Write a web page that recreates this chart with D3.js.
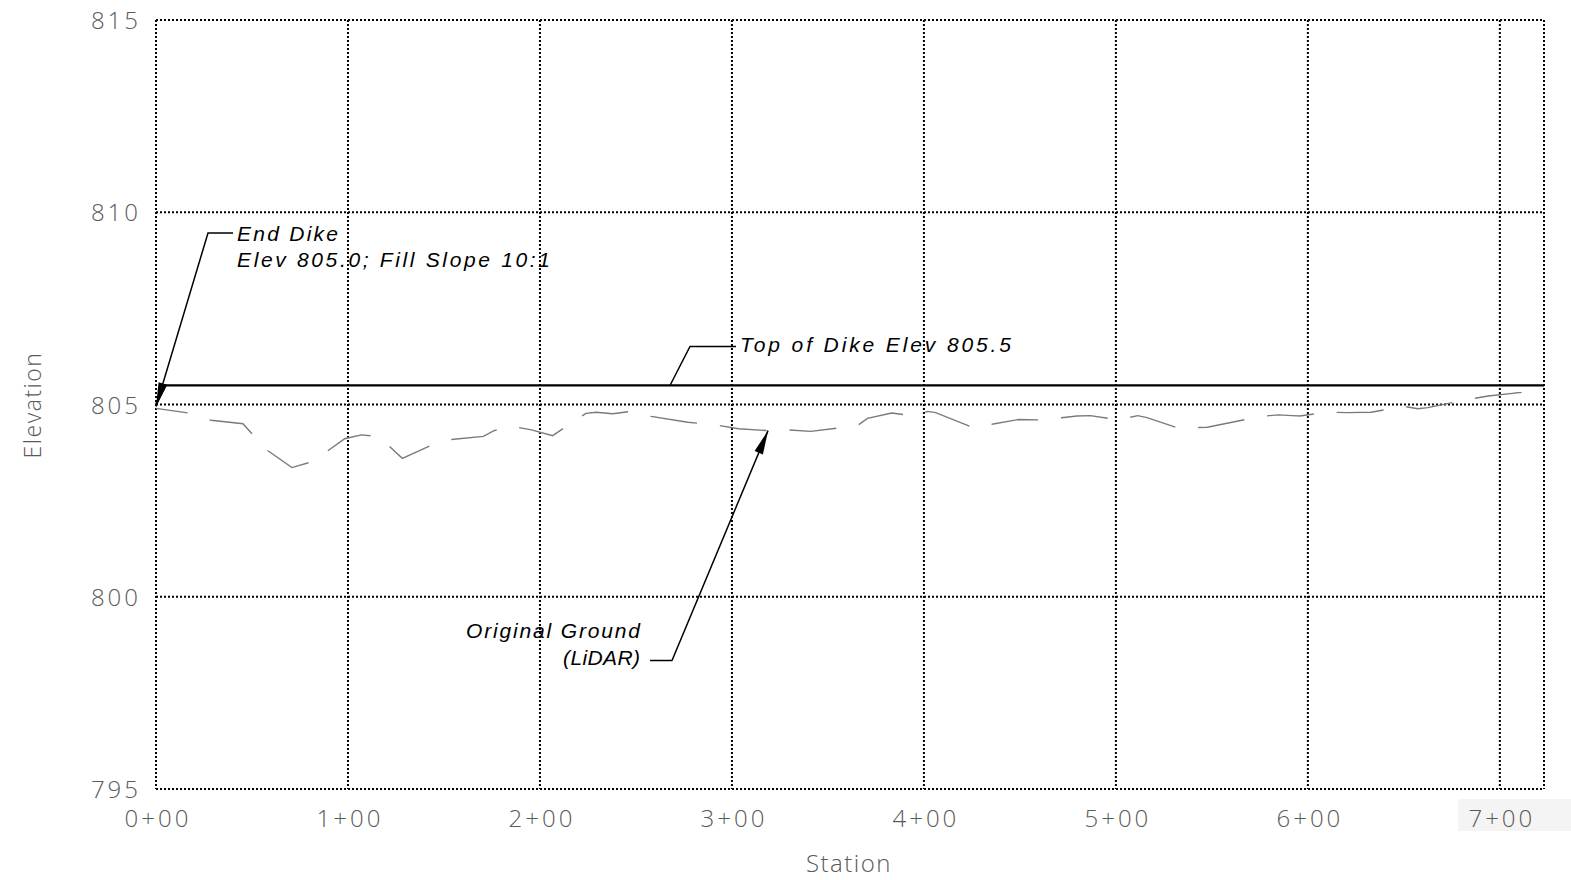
<!DOCTYPE html>
<html>
<head>
<meta charset="utf-8">
<script src="https://cdn.jsdelivr.net/npm/d3@7"></script>
<style>
  html, body { margin: 0; padding: 0; background: #fff; }
  svg { display: block; }
  .tick-label { font-family: "Open Sans", "Liberation Sans", sans-serif; font-weight: 300; fill: #5a5a5a; }
  .note { font-family: "Liberation Sans", "DejaVu Sans", sans-serif; font-style: italic; fill: #000; }
</style>
</head>
<body>
<svg id="chart" width="1571" height="880"></svg>
<script>
// Profile along the dike alignment: station (ft) vs elevation (ft)
const stationTicks = [0, 100, 200, 300, 400, 500, 600, 700];
const elevationTicks = [795, 800, 805, 810, 815];

// Top of dike: ties in at 805.0, rises on a 10:1 fill slope to 805.5
const dikeStations = [0, 5, 723];
const dikeElevations = [805.0, 805.5, 805.5];

// Original ground surface (LiDAR)
const groundStations = [0, 16.7, 28.7, 45.3, 57.4, 70.8, 81.8, 98.3, 106.9, 115.9, 128.3, 142.1,
  153.5, 170.5, 176.1, 185.8, 195.6, 206.6, 223.9, 229.3, 237.9, 247.1, 257.9, 277.0, 291.3,
  303.4, 318.8, 328.7, 341.0, 365.4, 370.6, 383.2, 395.3, 401.9, 406.1, 426.6, 436.8, 449.3,
  459.7, 474.1, 479.7, 486.7, 501.1, 511.4, 516.2, 532.8, 547.6, 575.4, 584.5, 592.0, 595.8,
  609.8, 620.0, 632.9, 650.4, 657.3, 662.4, 685.3, 694.0, 706.5, 711.2, 723];
const groundElevations = [804.90, 804.78, 804.59, 804.50, 803.83, 803.36, 803.52, 804.11, 804.21,
  804.17, 803.60, 803.91, 804.09, 804.17, 804.32, 804.43, 804.34, 804.19, 804.77, 804.80, 804.76,
  804.82, 804.69, 804.54, 804.47, 804.37, 804.32, 804.34, 804.30, 804.45, 804.64, 804.78, 804.70,
  804.82, 804.79, 804.38, 804.50, 804.61, 804.60, 804.67, 804.70, 804.71, 804.60, 804.71, 804.66,
  804.38, 804.41, 804.69, 804.73, 804.71, 804.70, 804.80, 804.79, 804.80, 804.95, 804.89, 804.92,
  805.15, 805.22, 805.29, 805.32, 805.49];

const svg = d3.select("#chart");
const plotLeft = 156, plotRight = 1544, plotTop = 20, plotBottom = 789;

const x = d3.scaleLinear().domain([0, 723]).range([plotLeft, plotRight]);
const y = d3.scaleLinear().domain([795, 815]).range([plotBottom, plotTop]);

const fmtStation = s => `${Math.floor(s / 100)}+${String(Math.round(s % 100)).padStart(2, "0")}`;

// light backdrop behind the last station label
svg.append("rect").attr("x", 1458).attr("y", 799).attr("width", 113).attr("height", 32).attr("fill", "#f4f4f4");

// dotted grid
const grid = svg.append("g").attr("stroke", "#000").attr("stroke-width", 2).attr("stroke-dasharray", "2 2").attr("fill", "none");
grid.selectAll(".gx").data(stationTicks).join("line")
  .attr("x1", d => x(d)).attr("x2", d => x(d)).attr("y1", plotTop).attr("y2", plotBottom);
grid.selectAll(".gy").data(elevationTicks).join("line")
  .attr("x1", plotLeft).attr("x2", plotRight).attr("y1", d => y(d)).attr("y2", d => y(d));
grid.append("line").attr("x1", plotRight).attr("x2", plotRight).attr("y1", plotTop).attr("y2", plotBottom);

// axes (labels only)
const xAxis = svg.append("g").attr("transform", `translate(0,${plotBottom})`)
  .call(d3.axisBottom(x).tickValues(stationTicks).tickFormat(fmtStation).tickSize(0).tickPadding(0));
xAxis.select(".domain").remove();
xAxis.selectAll("text").attr("class", "tick-label").attr("font-size", 24).attr("letter-spacing", 3)
  .attr("dy", null).attr("y", 38).attr("dx", 1.5);

const yAxis = svg.append("g").attr("transform", `translate(${plotLeft},0)`)
  .call(d3.axisLeft(y).tickValues(elevationTicks).tickFormat(d3.format("d")).tickSize(0).tickPadding(0));
yAxis.select(".domain").remove();
yAxis.selectAll("text").attr("class", "tick-label").attr("font-size", 24).attr("letter-spacing", 3)
  .attr("x", -15).attr("dy", "0.36em");

svg.append("text").attr("class", "tick-label").attr("font-size", 24).attr("letter-spacing", 1.5)
  .attr("x", 849).attr("y", 872).attr("text-anchor", "middle").text("Station");
svg.append("text").attr("class", "tick-label").attr("font-size", 23).attr("letter-spacing", 1.5)
  .attr("transform", "translate(41,405) rotate(-90)").attr("text-anchor", "middle").text("Elevation");

// original ground
const line = d3.line().x(d => x(d[0])).y(d => y(d[1]));
svg.append("path")
  .datum(d3.zip(groundStations, groundElevations))
  .attr("d", line).attr("fill", "none").attr("stroke", "#7a7a7a").attr("stroke-width", 1.4)
  .attr("stroke-dasharray", "47 23").attr("stroke-dashoffset", 15);

// top of dike
svg.append("path")
  .datum(d3.zip(dikeStations, dikeElevations))
  .attr("d", line).attr("fill", "none").attr("stroke", "#000").attr("stroke-width", 2.2);

// callouts
const notes = svg.append("g");
function arrow(fromX, fromY, tipX, tipY) {
  const dx = tipX - fromX, dy = tipY - fromY, len = Math.hypot(dx, dy);
  const ux = dx / len, uy = dy / len, L = 24, W = 4.5;
  const bx = tipX - ux * L, by = tipY - uy * L;
  notes.append("path")
    .attr("d", `M${tipX},${tipY}L${bx - uy * W},${by + ux * W}L${bx + uy * W},${by - ux * W}Z`)
    .attr("fill", "#000");
}
function leader(points) {
  notes.append("path").attr("d", d3.line()(points)).attr("fill", "none")
    .attr("stroke", "#000").attr("stroke-width", 1.5);
}
function note(txt, tx, ty, len, anchor) {
  notes.append("text").attr("class", "note").attr("font-size", 21)
    .attr("x", tx).attr("y", ty).attr("text-anchor", anchor || "start")
    .attr("textLength", len).attr("lengthAdjust", "spacing").text(txt);
}

// End Dike
const edTip = [x(0), y(805) + 2];
leader([[233, 233], [208, 233], edTip]);
arrow(208, 233, edTip[0], edTip[1]);
note("End  Dike", 237, 241, 101);
note("Elev  805.0;  Fill  Slope  10:1", 237, 267, 313);

// Top of Dike
const tdStart = [x(267.8), y(805.5)];
leader([tdStart, [690, 346.5], [736, 346.5]]);
note("Top  of  Dike  Elev  805.5", 740, 352, 271);

// Original Ground
const ogTip = [x(318.8), y(804.32)];
leader([[650, 660.5], [672, 660.5], ogTip]);
arrow(672, 660.5, ogTip[0], ogTip[1]);
note("Original  Ground", 640, 638, 174, "end");
note("(LiDAR)", 640, 665, 77, "end");
</script>
</body>
</html>
